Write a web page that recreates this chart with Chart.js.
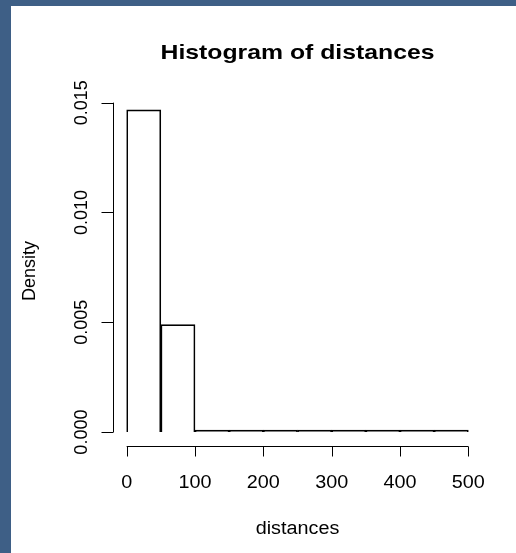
<!DOCTYPE html>
<html>
<head>
<meta charset="utf-8">
<script src="https://cdn.jsdelivr.net/npm/chart.js@4/dist/chart.umd.min.js"></script>
<style>
  html, body { margin: 0; padding: 0; width: 516px; height: 553px; overflow: hidden; background: #3e5f86; }
  .plot { position: absolute; left: 11px; top: 6px; width: 505px; height: 547px; background: #fff; }
</style>
</head>
<body>
<div class="plot"><canvas id="hist" width="505" height="547"></canvas></div>
<script>
// histogram bins (width 50) and their densities
const binStarts = [0, 50, 100, 150, 200, 250, 300, 350, 400, 450];
const binWidth = 50;
const densities = [0.01467, 0.00489, 0.00005, 0.00004, 0.00004, 0.00003, 0.00003, 0.00002, 0.00002, 0.00002];

const xTicks = [0, 100, 200, 300, 400, 500];
const yTicks = [0, 0.005, 0.010, 0.015];
const yTickLabels = [`0.000`, `0.005`, `0.010`, `0.015`];

const TITLE = `Histogram of distances`;
const X_LABEL = `distances`;
const Y_LABEL = `Density`;

const FONT = `"Liberation Sans", Arial, sans-serif`;
const STRETCH = 1.1;

const drawText = (ctx, text, x, y, font, sx) => {
  ctx.save();
  ctx.translate(x, y);
  ctx.scale(sx, 1);
  ctx.font = font;
  ctx.fillText(text, 0, 0);
  ctx.restore();
};

// base-graphics style axes: line spans first..last tick, ticks point outwards
const rAxes = {
  id: `rAxes`,
  afterDraw(chart) {
    const {ctx, chartArea, scales: {x, y}} = chart;
    ctx.save();
    ctx.strokeStyle = `#000`;
    ctx.fillStyle = `#000`;
    ctx.lineWidth = 1;

    const axisY = Math.round(chartArea.bottom) + 1.5;
    ctx.beginPath();
    ctx.moveTo(x.getPixelForValue(xTicks[0]), axisY);
    ctx.lineTo(x.getPixelForValue(xTicks[xTicks.length - 1]), axisY);
    xTicks.forEach((t) => {
      const px = Math.round(x.getPixelForValue(t)) + 0.5;
      ctx.moveTo(px, axisY);
      ctx.lineTo(px, axisY + 10);
    });
    ctx.stroke();

    ctx.textAlign = `center`;
    ctx.textBaseline = `alphabetic`;
    xTicks.forEach((t) => {
      drawText(ctx, String(t), x.getPixelForValue(t), axisY + 41, `18px ${FONT}`, STRETCH);
    });

    const axisX = Math.round(chartArea.left) + 0.5;
    ctx.beginPath();
    ctx.moveTo(axisX, y.getPixelForValue(yTicks[0]));
    ctx.lineTo(axisX, y.getPixelForValue(yTicks[yTicks.length - 1]));
    yTicks.forEach((t) => {
      const py = Math.round(y.getPixelForValue(t)) + 0.5;
      ctx.moveTo(axisX, py);
      ctx.lineTo(axisX - 12, py);
    });
    ctx.stroke();

    ctx.font = `18px ${FONT}`;
    yTicks.forEach((t, i) => {
      ctx.save();
      ctx.translate(axisX - 27, y.getPixelForValue(t));
      ctx.rotate(-Math.PI / 2);
      ctx.fillText(yTickLabels[i], 0, 0);
      ctx.restore();
    });

    const cx = (chartArea.left + chartArea.right) / 2;
    const cy = (chartArea.top + chartArea.bottom) / 2;
    drawText(ctx, TITLE, cx, 52.5, `bold 21px ${FONT}`, 1.18);
    drawText(ctx, X_LABEL, cx, axisY + 87, `18px ${FONT}`, STRETCH);

    ctx.save();
    ctx.translate(23.5, cy);
    ctx.rotate(-Math.PI / 2);
    ctx.font = `18px ${FONT}`;
    ctx.fillText(Y_LABEL, 0, 0);
    ctx.restore();

    ctx.restore();
  }
};

new Chart(document.getElementById(`hist`), {
  type: `bar`,
  data: {
    datasets: [{
      data: binStarts.map((start, i) => ({x: start + binWidth / 2, y: densities[i]})),
      backgroundColor: `rgba(0, 0, 0, 0)`,
      borderColor: `#000`,
      borderWidth: 1,
      barPercentage: 1,
      categoryPercentage: 1,
      minBarLength: 2,
    }],
  },
  options: {
    responsive: false,
    animation: false,
    events: [],
    layout: {padding: {left: 102, right: 34, top: 91, bottom: 108}},
    plugins: {legend: {display: false}, tooltip: {enabled: false}, title: {display: false}},
    scales: {
      x: {
        type: `linear`,
        display: false,
        offset: false,
        min: -20,
        max: 520,
      },
      y: {
        type: `linear`,
        display: false,
        min: -0.000587,
        max: 0.015257,
      },
    },
  },
  plugins: [rAxes],
});
</script>
</body>
</html>
